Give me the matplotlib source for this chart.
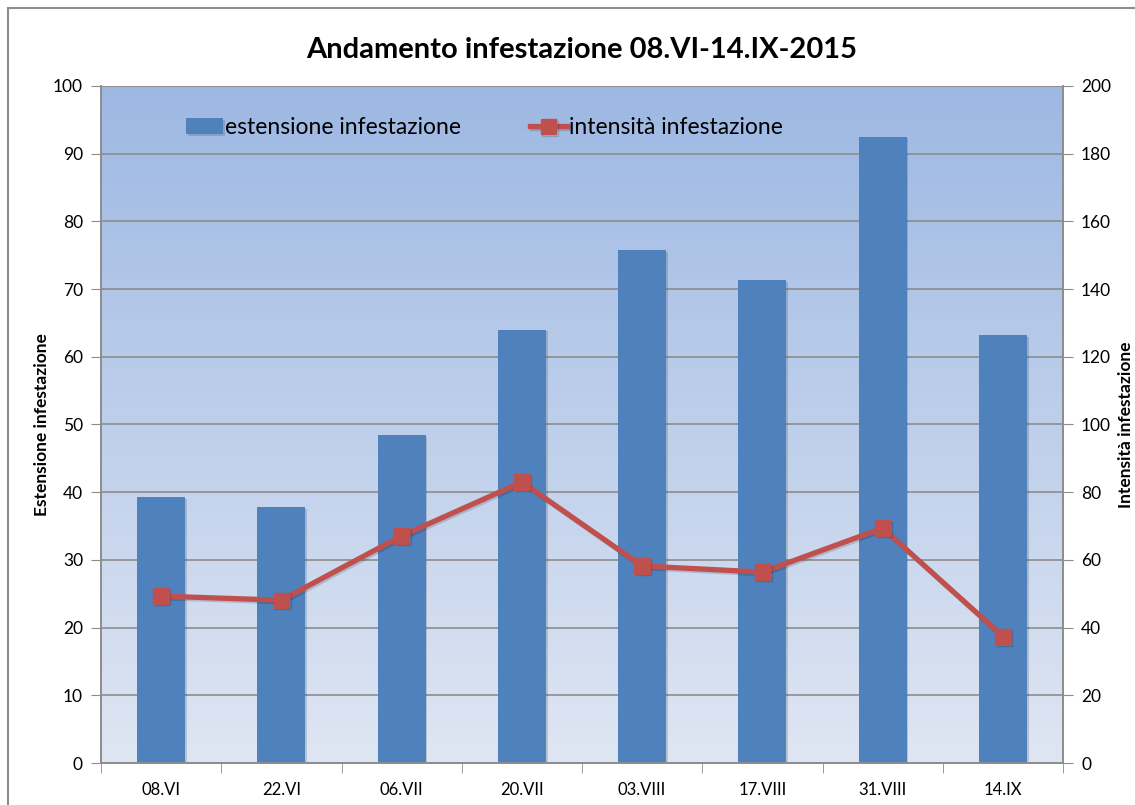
"""
Andamento infestazione 08.VI-14.IX-2015: barre (estensione) + linea (intensità) su doppio asse.
"""
import matplotlib
matplotlib.use("Agg")
import matplotlib.pyplot as plt
import matplotlib.patheffects as pe
import numpy as np
from matplotlib.colors import LinearSegmentedColormap
from matplotlib.patches import Rectangle

plt.rcParams["font.family"] = ["Lato", "DejaVu Sans"]

# dati
date_labels = ["08.VI", "22.VI", "06.VII", "20.VII", "03.VIII", "17.VIII", "31.VIII", "14.IX"]
estensione = [39.3, 37.8, 48.4, 64.0, 75.8, 71.3, 92.5, 63.2]
intensita = [49.3, 48.1, 67.1, 83.0, 58.2, 56.4, 69.4, 37.4]

left_ticks = list(range(0, 101, 10))
right_ticks = list(range(0, 201, 20))

BAR_COLOR = "#4F81BD"
LINE_COLOR = "#C0504D"
GRID_COLOR = "#8C8C8C"

fig = plt.figure(figsize=(11.35, 8.05), dpi=100)
fig.patch.set_facecolor("white")

# cornice del grafico (tagliata a destra e in basso come nell'originale)
fig.add_artist(Rectangle((8 / 1135, -0.1), 1.2, 1 - 8 / 805 + 0.1,
                         transform=fig.transFigure, fill=False,
                         edgecolor="#8C8C8C", linewidth=1.5))

ax = fig.add_axes([101 / 1135, 1 - 763 / 805, (1063 - 101) / 1135, (763 - 86) / 805])
ax2 = ax.twinx()

# sfondo sfumato blu
grad_cmap = LinearSegmentedColormap.from_list("bg", ["#DFE6F3", "#9DB8E3"])
grad = np.linspace(0, 1, 256).reshape(-1, 1)
ax.imshow(grad, cmap=grad_cmap, origin="lower", aspect="auto",
          extent=[0, 1, 0, 1], transform=ax.transAxes, zorder=0)

x = np.arange(len(date_labels))
ax.bar(x, estensione, width=0.4, color=BAR_COLOR, zorder=2,
       path_effects=[pe.SimplePatchShadow(offset=(1.2, -1.2), alpha=0.18), pe.Normal()],
       label="estensione infestazione")
ax2.plot(x, intensita, color=LINE_COLOR, linewidth=3.8, marker="s", markersize=11,
         zorder=3, solid_joinstyle="miter",
         path_effects=[pe.SimpleLineShadow(offset=(1.2, -1.2), alpha=0.15), pe.Normal()],
         label="intensità infestazione")

ax.set_xlim(-0.5, len(date_labels) - 0.5)
ax.set_ylim(0, 100)
ax2.set_ylim(0, 200)
ax.set_yticks(left_ticks)
ax2.set_yticks(right_ticks)

ax.set_xticks(x)
ax.set_xticklabels(date_labels)
ax.set_xticks(np.arange(-0.5, len(date_labels), 1.0), minor=True)
ax.tick_params(axis="x", which="major", length=0, pad=14, labelsize=12)
ax.tick_params(axis="x", which="minor", length=7, color=GRID_COLOR, direction="out")
ax.tick_params(axis="y", length=7, color=GRID_COLOR, labelsize=12.5, pad=6)
ax2.tick_params(axis="y", length=7, color=GRID_COLOR, labelsize=12.5, pad=6)

ax.grid(axis="y", color=GRID_COLOR, linewidth=1.2, zorder=1)
ax.set_axisbelow(True)

for a in (ax, ax2):
    a.spines["top"].set_visible(False)
    for side in ("left", "right", "bottom"):
        a.spines[side].set_color(GRID_COLOR)
        a.spines[side].set_linewidth(1.2)

ax.set_ylabel("Estensione infestazione", fontsize=12.5, fontweight="bold", labelpad=2)
ax2.set_ylabel("Intensità infestazione", fontsize=12.5, fontweight="bold", labelpad=5)

fig.text(0.5 * (101 + 1063) / 1135, 1 - 50 / 805, "Andamento infestazione 08.VI-14.IX-2015",
         ha="center", va="center", fontsize=21, fontweight="bold")

h1, l1 = ax.get_legend_handles_labels()
h2, l2 = ax2.get_legend_handles_labels()
ax.legend(h1 + h2, l1 + l2, loc="center left", bbox_to_anchor=(76 / 962, 1 - 42 / 677),
          ncol=2, frameon=False, fontsize=16.5, handlelength=1.6, handletextpad=0.1,
          columnspacing=3.0, borderaxespad=0)

fig.savefig("out.png", dpi=100)
